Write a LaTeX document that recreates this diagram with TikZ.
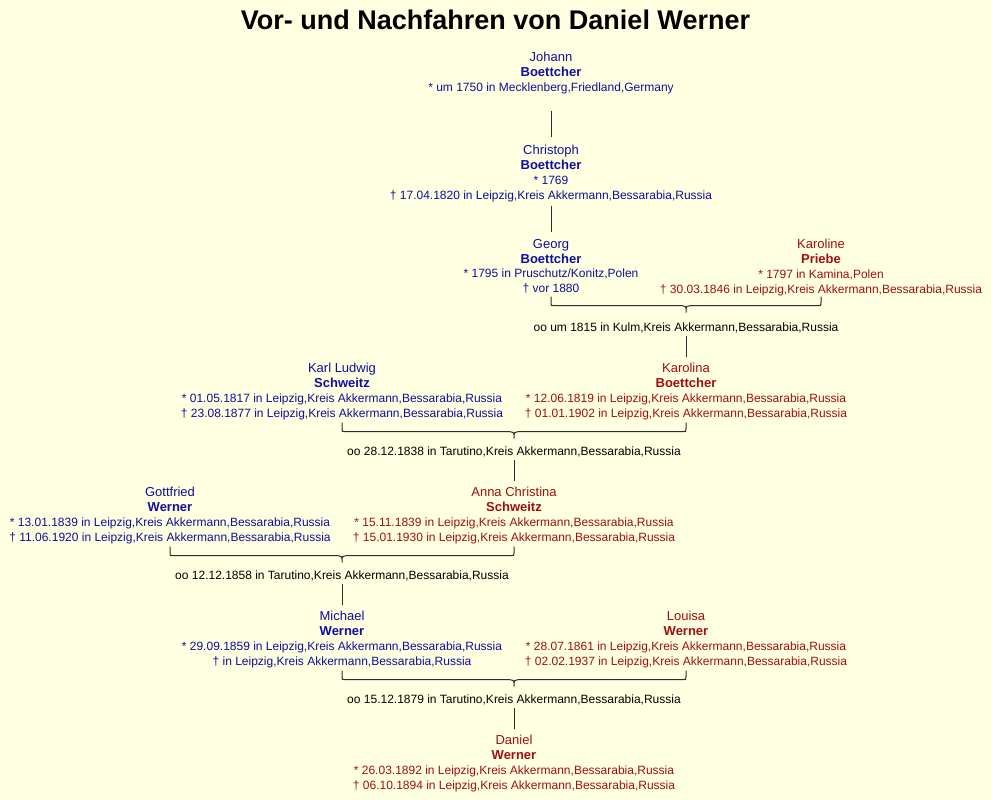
\documentclass[tikz,border=0pt]{standalone}
\usepackage{fontspec}
\setmainfont{Liberation Sans}
\usetikzlibrary{calc}
\definecolor{bgyellow}{RGB}{255,255,225}
\definecolor{mblue}{RGB}{15,15,155}
\definecolor{fred}{RGB}{160,15,15}
\definecolor{linegray}{RGB}{45,45,45}
\newcommand\pname[2]{{\fontsize{13}{14.8}\selectfont #1}\\{\fontsize{13}{14.8}\selectfont\bfseries #2}}
\newcommand\couplebrace[3]{%
  \draw[brc] let \p1=(#1.south), \p2=(#2.south), \p3=(#3.north) in
    (\x1,\y1-3pt) -- (\x1,\y1-9pt) .. controls (\x1,\y1-12pt) .. (\x1+3pt,\y1-12pt)
      -- (\x3-4pt,\y1-12pt) .. controls (\x3-1pt,\y1-12pt) and (\x3,\y1-13pt) .. (\x3,\y1-15pt)
      -- (\x3,\y1-19pt)
    (\x2,\y1-3pt) -- (\x2,\y1-9pt) .. controls (\x2,\y1-12pt) .. (\x2-3pt,\y1-12pt)
      -- (\x3+4pt,\y1-12pt) .. controls (\x3+1pt,\y1-12pt) and (\x3,\y1-13pt) .. (\x3,\y1-15pt);
}
\begin{document}
\begin{tikzpicture}[x=1pt,y=-1pt,
  person/.style={anchor=north, inner sep=0pt, align=center, font=\fontsize{12}{14.8}\selectfont},
  male/.style={person, text=mblue},
  female/.style={person, text=fred},
  marriage/.style={anchor=base, inner sep=0pt, font=\fontsize{12}{14.8}\selectfont, text=black},
  conn/.style={draw=linegray, line width=1pt},
  brc/.style={draw=linegray, line width=1pt},
  titlestyle/.style={anchor=base, inner sep=0pt, font=\fontsize{27}{30}\selectfont\bfseries, text=black}]
\fill[bgyellow] (0,0) rectangle (991,800);
\useasboundingbox (0,0) rectangle (991,800);

\node[titlestyle] (title) at (495.5,29.5) {Vor- und Nachfahren von Daniel Werner};

% generation 1
\node[male] (johann) at (551,52) {\pname{Johann}{Boettcher}\\* um 1750 in Mecklenberg,Friedland,Germany};
% generation 2
\node[male] (christoph) at (551,145) {\pname{Christoph}{Boettcher}\\* 1769\\† 17.04.1820 in Leipzig,Kreis Akkermann,Bessarabia,Russia};
% generation 3
\node[male] (georg) at (551,239) {\pname{Georg}{Boettcher}\\* 1795 in Pruschutz/Konitz,Polen\\† vor 1880};
\node[female] (karoline) at (821,239) {\pname{Karoline}{Priebe}\\* 1797 in Kamina,Polen\\† 30.03.1846 in Leipzig,Kreis Akkermann,Bessarabia,Russia};
\node[marriage] (m1) at (686,331) {oo um 1815 in Kulm,Kreis Akkermann,Bessarabia,Russia};
% generation 4
\node[male] (karl) at (342,363) {\pname{Karl Ludwig}{Schweitz}\\* 01.05.1817 in Leipzig,Kreis Akkermann,Bessarabia,Russia\\† 23.08.1877 in Leipzig,Kreis Akkermann,Bessarabia,Russia};
\node[female] (karolina) at (686,363) {\pname{Karolina}{Boettcher}\\* 12.06.1819 in Leipzig,Kreis Akkermann,Bessarabia,Russia\\† 01.01.1902 in Leipzig,Kreis Akkermann,Bessarabia,Russia};
\node[marriage] (m2) at (514,455) {oo 28.12.1838 in Tarutino,Kreis Akkermann,Bessarabia,Russia};
% generation 5
\node[male] (gottfried) at (170,487) {\pname{Gottfried}{Werner}\\* 13.01.1839 in Leipzig,Kreis Akkermann,Bessarabia,Russia\\† 11.06.1920 in Leipzig,Kreis Akkermann,Bessarabia,Russia};
\node[female] (anna) at (514,487) {\pname{Anna Christina}{Schweitz}\\* 15.11.1839 in Leipzig,Kreis Akkermann,Bessarabia,Russia\\† 15.01.1930 in Leipzig,Kreis Akkermann,Bessarabia,Russia};
\node[marriage] (m3) at (342,579) {oo 12.12.1858 in Tarutino,Kreis Akkermann,Bessarabia,Russia};
% generation 6
\node[male] (michael) at (342,611) {\pname{Michael}{Werner}\\* 29.09.1859 in Leipzig,Kreis Akkermann,Bessarabia,Russia\\† in Leipzig,Kreis Akkermann,Bessarabia,Russia};
\node[female] (louisa) at (686,611) {\pname{Louisa}{Werner}\\* 28.07.1861 in Leipzig,Kreis Akkermann,Bessarabia,Russia\\† 02.02.1937 in Leipzig,Kreis Akkermann,Bessarabia,Russia};
\node[marriage] (m4) at (514,703) {oo 15.12.1879 in Tarutino,Kreis Akkermann,Bessarabia,Russia};
% generation 7
\node[female] (daniel) at (514,735) {\pname{Daniel}{Werner}\\* 26.03.1892 in Leipzig,Kreis Akkermann,Bessarabia,Russia\\† 06.10.1894 in Leipzig,Kreis Akkermann,Bessarabia,Russia};

% connectors
\draw[conn, shorten <=17pt, shorten >=8pt] (johann.south) -- (christoph.north);
\draw[conn, shorten <=4pt, shorten >=7pt] (christoph.south) -- (georg.north);
\couplebrace{georg}{karoline}{m1}
\draw[conn, shorten <=3pt, shorten >=6pt] (m1.south) -- (karolina.north);
\couplebrace{karl}{karolina}{m2}
\draw[conn, shorten <=3pt, shorten >=6pt] (m2.south) -- (anna.north);
\couplebrace{gottfried}{anna}{m3}
\draw[conn, shorten <=3pt, shorten >=6pt] (m3.south) -- (michael.north);
\couplebrace{michael}{louisa}{m4}
\draw[conn, shorten <=3pt, shorten >=6pt] (m4.south) -- (daniel.north);
\end{tikzpicture}
\end{document}
